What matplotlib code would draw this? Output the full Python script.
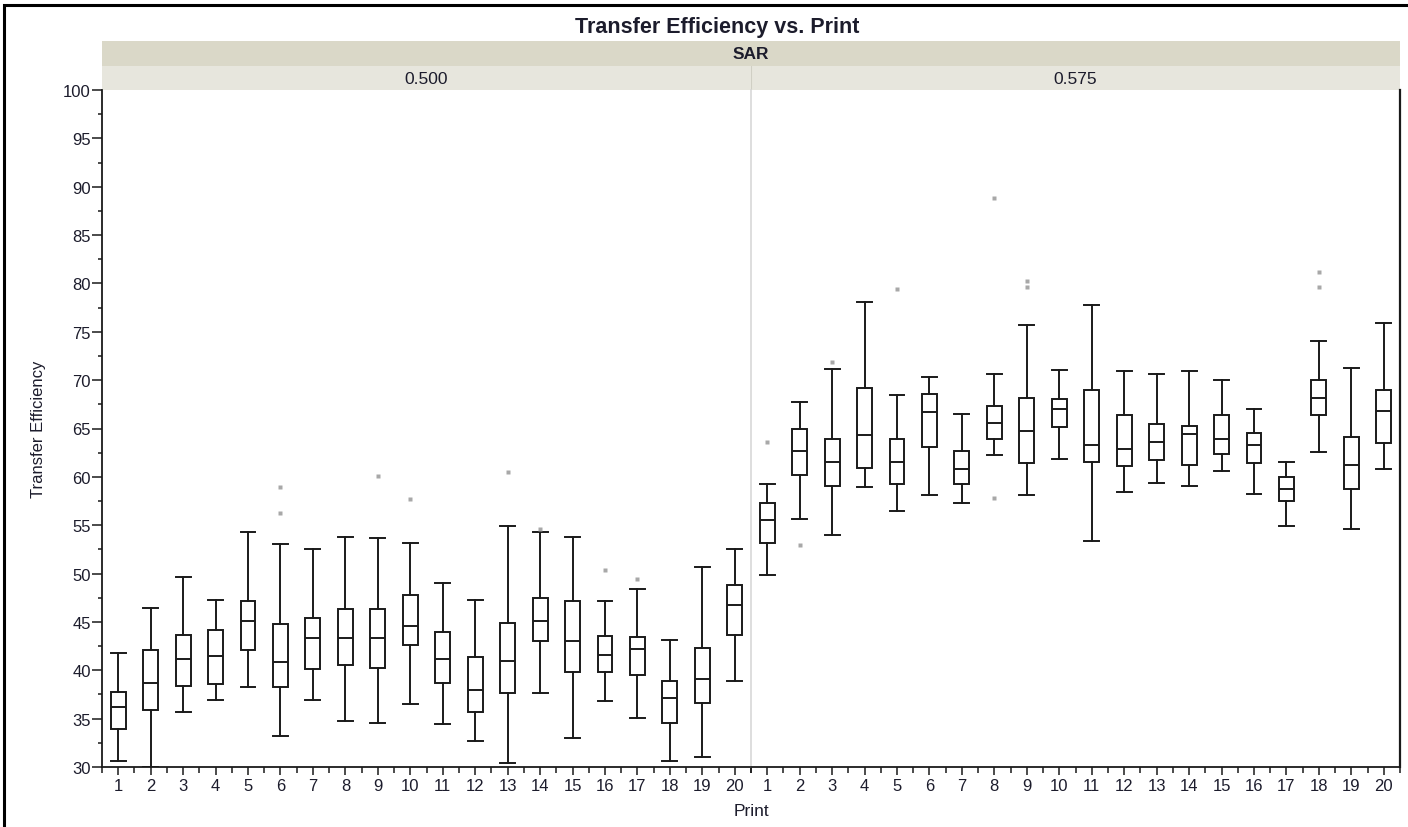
import numpy as np
import matplotlib
matplotlib.use('Agg')
import matplotlib.pyplot as plt
from matplotlib.patches import Rectangle

plt.rcParams['font.family'] = ['Liberation Sans', 'DejaVu Sans']

# Transfer Efficiency box summaries per Print, for each SAR level
PRINTS = list(range(1, 21))
SAR_LEVELS = ['0.500', '0.575']

lo_500 = [30.6, 30.0, 35.7, 36.9, 38.3, 33.2, 36.9, 34.8, 34.6, 36.5,
          34.4, 32.7, 30.4, 37.7, 33.0, 36.8, 35.1, 30.6, 31.0, 38.9]
q1_500 = [33.9, 35.9, 38.4, 38.6, 42.1, 38.3, 40.1, 40.5, 40.2, 42.6,
          38.7, 35.7, 37.6, 43.0, 39.8, 39.8, 39.5, 34.6, 36.6, 43.7]
med_500 = [36.2, 38.7, 41.2, 41.5, 45.1, 40.9, 43.3, 43.3, 43.3, 44.6,
           41.2, 38.0, 41.0, 45.1, 43.0, 41.6, 42.2, 37.1, 39.1, 46.7]
q3_500 = [37.8, 42.1, 43.7, 44.2, 47.2, 44.8, 45.4, 46.3, 46.3, 47.8,
          44.0, 41.4, 44.9, 47.5, 47.2, 43.5, 43.4, 38.9, 42.3, 48.8]
hi_500 = [41.75, 46.4, 49.6, 47.3, 54.3, 53.1, 52.5, 53.8, 53.7, 53.2,
          49.0, 47.3, 54.9, 54.3, 53.8, 47.2, 48.4, 43.1, 50.7, 52.5]
out_500 = [[], [], [], [], [], [58.9, 56.3], [], [], [60.1], [57.7],
           [], [], [60.5], [54.6], [], [50.4], [49.4], [], [], []]

lo_575 = [49.9, 55.6, 54.0, 59.0, 56.5, 58.1, 57.3, 62.3, 58.1, 61.8,
          53.4, 58.4, 59.4, 59.1, 60.6, 58.2, 54.9, 62.6, 54.6, 60.8]
q1_575 = [53.2, 60.2, 59.1, 60.9, 59.3, 63.1, 59.3, 63.9, 61.4, 65.2,
          61.5, 61.1, 61.7, 61.2, 62.4, 61.4, 57.5, 66.4, 58.7, 63.5]
med_575 = [55.5, 62.7, 61.5, 64.3, 61.5, 66.7, 60.8, 65.6, 64.7, 67.0,
           63.3, 62.9, 63.6, 64.4, 63.9, 63.3, 58.7, 68.2, 61.2, 66.8]
q3_575 = [57.3, 64.9, 63.9, 69.2, 63.9, 68.6, 62.7, 67.3, 68.2, 68.0,
          69.0, 66.4, 65.5, 65.3, 66.4, 64.5, 60.0, 70.0, 64.1, 69.0]
hi_575 = [59.3, 67.7, 71.2, 78.1, 68.5, 70.3, 66.5, 70.6, 75.7, 71.0,
          77.8, 70.9, 70.6, 70.9, 70.0, 67.0, 61.5, 74.0, 71.3, 75.9]
out_575 = [[63.6], [53.0], [71.9], [], [79.4], [], [], [88.8, 57.8], [80.3, 79.6], [],
           [], [], [], [], [], [], [], [81.2, 79.6], [], []]

W, H = 1408, 828
fig = plt.figure(figsize=(W / 100, H / 100), dpi=100)
TXT = '#1c1c2c'
INK = '#1a1a1a'


def px(x0, y0, x1, y1):
    # pixel box (top-left origin) -> figure fraction rect
    return [x0 / W, 1 - y1 / H, (x1 - x0) / W, (y1 - y0) / H]


def make_stats(lo, q1, med, q3, hi, outs):
    stats = []
    for i in range(len(med)):
        stats.append(dict(whislo=lo[i], q1=q1[i], med=med[i], q3=q3[i],
                          whishi=hi[i], fliers=outs[i]))
    return stats


panels = [
    (make_stats(lo_500, q1_500, med_500, q3_500, hi_500, out_500), 102, 751),
    (make_stats(lo_575, q1_575, med_575, q3_575, hi_575, out_575), 751, 1400),
]

# outer frame (left and top edges only visible)
fig.add_artist(Rectangle((4 / W, -0.1), (W + 20) / W, 1.1 - 6 / H,
                         transform=fig.transFigure, fill=False,
                         edgecolor='black', linewidth=2.2))

fig.text(717 / W, 1 - 27 / H, 'Transfer Efficiency vs. Print', ha='center', va='center',
         fontsize=15.5, fontweight='bold', color=TXT)

# SAR strip
sar = fig.add_axes(px(102, 42, 1400, 67))
sar.set_facecolor('#dad8c8')
sar.set_xticks([]); sar.set_yticks([])
for s in sar.spines.values():
    s.set_visible(False)
sar.text(0.5, 0.5, 'SAR', ha='center', va='center', fontsize=12.5,
         fontweight='bold', color=TXT, transform=sar.transAxes)

axes = []
for k, (stats, x0, x1) in enumerate(panels):
    strip = fig.add_axes(px(x0, 67, x1, 91))
    strip.set_facecolor('#e7e6dd')
    strip.set_xticks([]); strip.set_yticks([])
    for s in strip.spines.values():
        s.set_visible(False)
    if k == 1:
        strip.axvline(0, color='#d0cfc4', linewidth=1.5)
    strip.text(0.5, 0.5, SAR_LEVELS[k], ha='center', va='center', fontsize=12.5,
               color=TXT, transform=strip.transAxes)

    ax = fig.add_axes(px(x0, 91, x1, 768))
    ax.bxp(stats, positions=PRINTS, widths=0.46, showfliers=True, patch_artist=True,
           boxprops=dict(facecolor='white', edgecolor=INK, linewidth=1.4),
           medianprops=dict(color=INK, linewidth=1.4),
           whiskerprops=dict(color=INK, linewidth=1.4),
           capprops=dict(color=INK, linewidth=1.4),
           flierprops=dict(marker='s', markersize=2.6, markerfacecolor='#a8a8a8',
                           markeredgecolor='none', linestyle='none'),
           capwidths=0.46)
    ax.set_xlim(0.5, 20.5)
    ax.set_ylim(30, 100)
    ax.set_xticks(PRINTS)
    ax.set_xticklabels([str(p) for p in PRINTS])
    ax.set_xticks(np.arange(0.5, 21, 1), minor=True)
    ax.tick_params(axis='x', which='major', length=6, width=1.1, colors=INK,
                   labelcolor=TXT, labelsize=12, pad=2)
    ax.tick_params(axis='x', which='minor', length=4, width=1.1, colors=INK)
    for s in ['top', 'right', 'left']:
        ax.spines[s].set_visible(False)
    ax.spines['bottom'].set_linewidth(1.3)
    ax.spines['bottom'].set_color(INK)
    if k == 0:
        ax.spines['left'].set_visible(True)
        ax.spines['left'].set_linewidth(1.3)
        ax.spines['left'].set_color(INK)
        ax.set_yticks(np.arange(30, 101, 5))
        ax.set_yticks(np.arange(32.5, 100, 5), minor=True)
        ax.tick_params(axis='y', which='major', length=7, width=1.1, colors=INK,
                       labelcolor=TXT, labelsize=12, pad=1)
        ax.tick_params(axis='y', which='minor', length=3, width=1.1, colors=INK)
        ax.set_ylabel('Transfer Efficiency', fontsize=12, color=TXT)
        ax.yaxis.set_label_coords((46 - 102) / 649, 0.5)
    else:
        ax.set_yticks([])
        ax.spines['left'].set_visible(True)
        ax.spines['left'].set_color('#d8d8d8')
        ax.spines['left'].set_linewidth(1.2)
        ax.spines['right'].set_visible(True)
        ax.spines['right'].set_color(INK)
        ax.spines['right'].set_linewidth(1.6)
    axes.append(ax)

fig.text(751 / W, 1 - 812 / H, 'Print', ha='center', va='center', fontsize=12.5, color=TXT)

fig.savefig('out.png', dpi=100)
